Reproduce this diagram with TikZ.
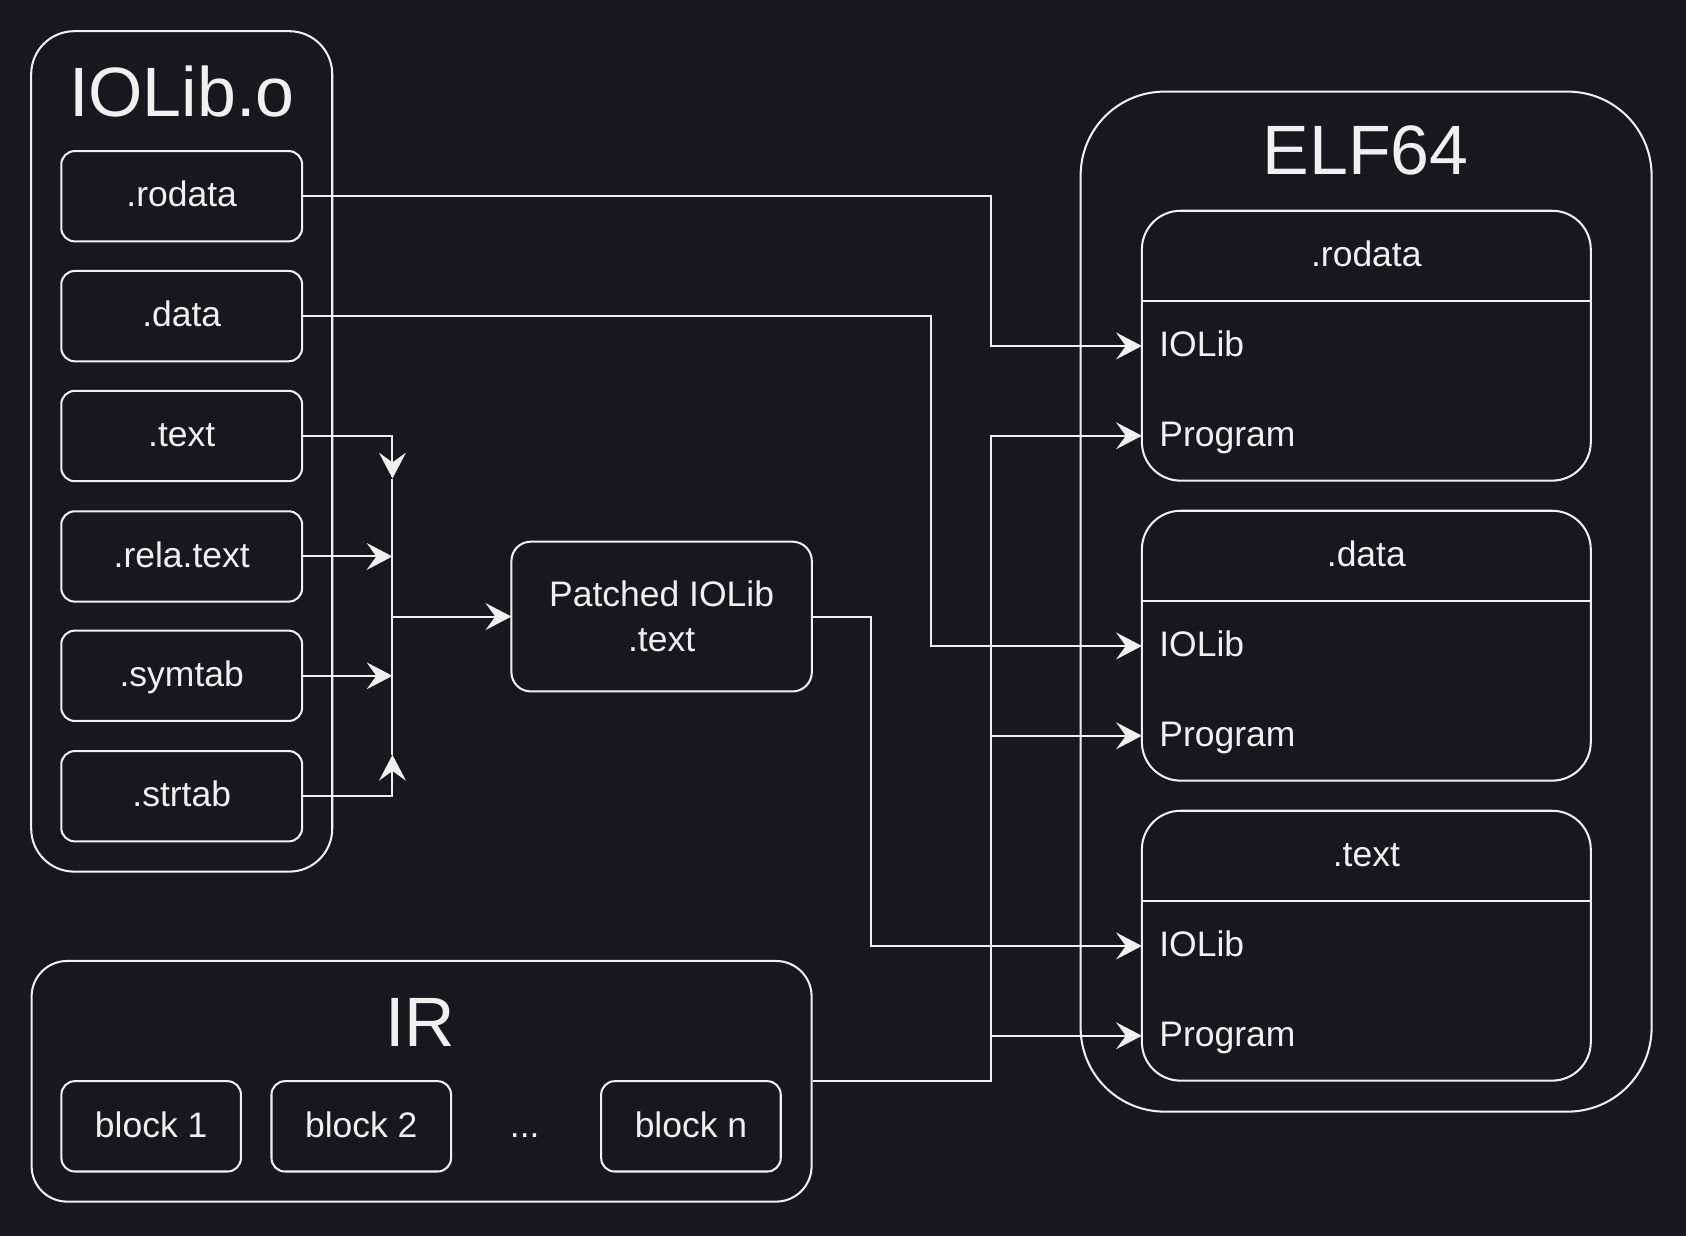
\documentclass[tikz,border=0pt]{standalone}
\usepackage{fontspec}
\setmainfont{Liberation Sans}
\usetikzlibrary{arrows.meta,calc}
\definecolor{bg}{RGB}{24,22,31}
\definecolor{fg}{RGB}{240,240,240}
\newcommand\bodyfnt{\fontsize{33}{42}\selectfont}
\newcommand\titlefnt{\fontsize{65}{78}\selectfont}
\begin{document}
\begin{tikzpicture}[x=1pt,y=-1pt,
  lw/.style={line width=1.9pt},
  box/.style={draw=fg,lw,rectangle,inner sep=0pt,outer sep=0pt,text=fg,font=\bodyfnt,text height=27pt,text depth=7pt},
  sbox/.style={box,minimum width=224pt,minimum height=84pt,rounded corners=12.5pt},
  blk/.style={box,minimum width=167pt,minimum height=84pt,rounded corners=12.5pt},
  sect/.style={draw=fg,lw,rectangle,inner sep=0pt,outer sep=0pt,minimum width=417.5pt,minimum height=251pt,rounded corners=36pt},
  hdr/.style={inner sep=0pt,text=fg,font=\bodyfnt,text height=27pt,text depth=7pt},
  rowtxt/.style={anchor=west,inner xsep=16pt,inner ysep=0pt,text=fg,font=\bodyfnt,text height=27pt,text depth=7pt},
  ttl/.style={anchor=base,inner sep=0pt,text=fg,font=\titlefnt},
  ln/.style={draw=fg,lw},
  arr/.style={draw=fg,lw,-{Stealth[length=24pt,width=25pt,inset=9pt]}},
]
% background
\fill[bg] (0,0) rectangle (1568,1149.5);
\useasboundingbox (0,0) rectangle (1568,1149.5);

% IOLib.o container
\node[draw=fg,lw,rectangle,inner sep=0pt,minimum width=280pt,minimum height=781.6pt,rounded corners=40pt] (iolib) at (169,419.8) {};
\node[ttl] (iolibT) at (169,108.5) {IOLib.o};
\node[sbox] (rodata) at (169,182.5) {.rodata};
\node[sbox] (data) at (169,294) {.data};
\node[sbox] (text) at (169,405.5) {.text};
\node[sbox] (rela) at (169,517.5) {.rela.text};
\node[sbox] (symtab) at (169,628.5) {.symtab};
\node[sbox] (strtab) at (169,740.5) {.strtab};

% IR container
\node[draw=fg,lw,rectangle,inner sep=0pt,minimum width=725.4pt,minimum height=223.8pt,rounded corners=33pt] (ir) at (392.1,1005.6) {};
\node[ttl] (irT) at (391,973.4) {IR};
\node[blk] (b1) at (140.6,1047.5) {block 1};
\node[blk] (b2) at (336,1047.5) {block 2};
\node[hdr] (dots) at (488,1047.5) {...};
\node[blk] (bn) at (642.6,1047.5) {block n};

% Patched
\node[draw=fg,lw,rectangle,inner sep=0pt,outer sep=0pt,minimum width=279.4pt,minimum height=139.3pt,rounded corners=18pt,text=fg,font=\bodyfnt,align=center] (patched) at (615.3,573.4) {Patched IOLib\\.text};

% ELF64 container
\node[draw=fg,lw,rectangle,inner sep=0pt,minimum width=531pt,minimum height=948.6pt,rounded corners=78pt] (elf) at (1270.5,559.5) {};
\node[ttl] (elfT) at (1270,162.7) {ELF64};

% sections
\node[sect] (sRo) at (1270.7,321.5) {};
\node[sect] (sDa) at (1270.7,600.5) {};
\node[sect] (sTx) at (1270.7,879.5) {};
\foreach \s/\t in {sRo/.rodata,sDa/.data,sTx/.text}{
  \draw[ln] ($(\s.north west)+(0,84)$) -- ($(\s.north east)+(0,84)$);
  \node[hdr] (\s h) at ($(\s.north)+(0,42)$) {\t};
}
\node[rowtxt] (roIO) at (1062,321.75) {IOLib};
\node[rowtxt] (roPr) at (1062,405.25) {Program};
\node[rowtxt] (daIO) at (1062,600.75) {IOLib};
\node[rowtxt] (daPr) at (1062,684.25) {Program};
\node[rowtxt] (txIO) at (1062,879.75) {IOLib};
\node[rowtxt] (txPr) at (1062,963.25) {Program};

% routing columns
\coordinate (cTop) at (365,445);
\coordinate (cBot) at (365,702);
\coordinate (colP) at (810,0);
\coordinate (colD) at (866,0);
\coordinate (colA) at (922,0);

% left collector
\draw[arr] (text.east) -| (cTop);
\draw[arr] (rela.east) -- (rela.east -| cTop);
\draw[arr] (symtab.east) -- (symtab.east -| cTop);
\draw[arr] (strtab.east) -| (cBot);
\draw[ln] (cTop) -- (cBot);
\draw[arr] (patched.west -| cTop) -- (patched.west);

% to ELF64
\draw[arr] (rodata.east) -| (colA |- roIO.west) -- (roIO.west);
\draw[arr] (data.east) -| (colD |- daIO.west) -- (daIO.west);
\draw[arr] (patched.east) -| (colP |- txIO.west) -- (txIO.west);
\draw[arr] (ir.east) -| (colA |- roPr.west) -- (roPr.west);
\draw[arr] (colA |- daPr.west) -- (daPr.west);
\draw[arr] (colA |- txPr.west) -- (txPr.west);
\end{tikzpicture}
\end{document}
